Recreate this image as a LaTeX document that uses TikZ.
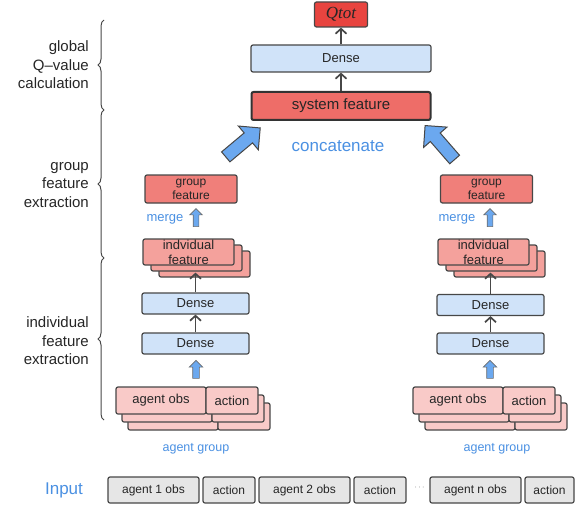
\documentclass[tikz,border=0pt]{standalone}
\usepackage{fontspec}
\setmainfont{Liberation Sans}
\newfontfamily\qfont{Liberation Serif}
\usetikzlibrary{arrows.meta,shapes.arrows,shadows,decorations.pathreplacing}

\definecolor{qred}{HTML}{E8443F}
\definecolor{sysred}{HTML}{EE6D68}
\definecolor{grpred}{HTML}{F07F7A}
\definecolor{indred}{HTML}{F4A19C}
\definecolor{obspink}{HTML}{F9CAC8}
\definecolor{denseblue}{HTML}{D0E3F9}
\definecolor{arrblue}{HTML}{6BA8EF}
\definecolor{txtblue}{HTML}{4A90E2}
\definecolor{inpgray}{HTML}{E6E6E6}
\definecolor{edge}{HTML}{474747}

\tikzset{
  box/.style={draw=edge, line width=1.2pt, rounded corners=2pt, inner sep=0pt,
    text=black!85, font=\fontsize{13}{15}\selectfont},
  dense/.style={box, fill=denseblue, minimum width=107pt, minimum height=21pt},
  grp/.style={box, fill=grpred, minimum width=92pt, minimum height=28pt, align=center,
    font=\fontsize{12}{14}\selectfont},
  indv/.style={box, fill=indred, minimum width=91pt, minimum height=26pt, align=center,
    font=\fontsize{13}{15}\selectfont,
    double copy shadow={shadow xshift=8pt, shadow yshift=-6pt}},
  obs/.style={box, fill=obspink, minimum width=90pt, minimum height=27pt,
    double copy shadow={shadow xshift=6pt, shadow yshift=-8pt}},
  inp/.style={box, fill=inpgray, minimum width=91pt, minimum height=26pt,
    font=\fontsize{12}{14}\selectfont},
  bluetxt/.style={text=txtblue, inner sep=0pt, font=\fontsize{12.5}{14}\selectfont},
  lbl/.style={anchor=east, align=right, inner sep=0pt, text=black!85,
    font=\fontsize{15}{18.5}\selectfont},
  arr/.style={draw=edge, line width=1.7pt, -{Straight Barb[length=5pt,width=11pt]}},
  fatarrow/.style={single arrow, draw=edge, line width=1pt, fill=arrblue, inner sep=0pt,
    text height=6pt, text depth=6pt, minimum height=45pt, single arrow head extend=9pt},
  thinarrow/.style={single arrow, draw=edge!80, line width=0.6pt, fill=arrblue, inner sep=0pt,
    text height=2.5pt, text depth=2.5pt, minimum height=18pt, single arrow head extend=3.5pt},
  brc/.style={draw=edge, line width=1pt, decorate, decoration={brace, amplitude=6pt}}
}

\begin{document}
\begin{tikzpicture}[x=1pt,y=-1pt]
    \useasboundingbox (0,0) rectangle (575,508);

    % global Q-value
    \node[box, fill=qred, minimum width=53pt, minimum height=25pt,
      font=\qfont\itshape\fontsize{17}{17}\selectfont] (qtot) at (341,14.5) {Qtot};
    \node[dense, minimum width=180pt, minimum height=27pt] (dtop) at (341,58.5) {Dense};
    \node[box, fill=sysred, draw=black!80, line width=2pt, minimum width=179pt,
      minimum height=28pt, font=\fontsize{15}{15}\selectfont] (sys) at (341,106) {system feature};
    \draw[arr] (sys.north) -- (dtop.south);
    \draw[arr] (dtop.north) -- (qtot.south);
    \node[bluetxt, font=\fontsize{17}{17}\selectfont] (concat) at (338,146) {concatenate};
    \node[fatarrow, rotate=40] (catL) at (240.5,144.5) {};
    \node[fatarrow, rotate=131] (catR) at (442,145) {};

    % left agent group
    \node[grp] (gfL) at (191,189) {group\\feature};
    \node[bluetxt, font=\fontsize{13}{13}\selectfont] (mergeL) at (165,219) {merge};
    \node[thinarrow, rotate=90] (upL) at (196,219) {};
    \node[indv] (indL) at (188.5,252) {indvidual\\feature};
    \node[dense] (d2L) at (195.5,303.5) {Dense};
    \node[dense] (d1L) at (195.5,343.5) {Dense};
    \node[thinarrow, rotate=90, text height=3pt, text depth=3pt] (inL) at (196,371) {};
    \node[obs] (obsL) at (161,400.5) {agent obs};
    \node[obs, minimum width=52pt] (actL) at (232,400.5) {action};
    \node[bluetxt] (grpL) at (196,449) {agent group};
    \draw[arr] (d1L.north) -- (d2L.south);
    \draw[arr, shorten >=7pt] (d2L.north) -- (d2L.north |- indL.south);

    % right agent group
    \node[grp] (gfR) at (486.5,189) {group\\feature};
    \node[bluetxt, font=\fontsize{13}{13}\selectfont] (mergeR) at (457,219) {merge};
    \node[thinarrow, rotate=90] (upR) at (490,219) {};
    \node[indv] (indR) at (483.5,252) {indvidual\\feature};
    \node[dense] (d2R) at (490.5,305) {Dense};
    \node[dense] (d1R) at (490.5,343.5) {Dense};
    \node[thinarrow, rotate=90, text height=3pt, text depth=3pt] (inR) at (490,371) {};
    \node[obs] (obsR) at (458,400.5) {agent obs};
    \node[obs, minimum width=52pt] (actR) at (529,400.5) {action};
    \node[bluetxt] (grpR) at (497,449) {agent group};
    \draw[arr] (d1R.north) -- (d2R.south);
    \draw[arr, shorten >=7pt] (d2R.north) -- (d2R.north |- indR.south);

    % braces and stage labels
    \coordinate (b0) at (104,20);
    \coordinate (b1) at (104,110);
    \coordinate (b2) at (104,258);
    \coordinate (b3) at (104,420);
    \draw[brc] (b1) -- (b0);
    \draw[brc] (b2) -- (b1);
    \draw[brc] (b3) -- (b2);
    \node[lbl] (lglob) at (89,65) {global\\Q–value\\calculation};
    \node[lbl] (lgrp) at (89,185) {group\\feature\\extraction};
    \node[lbl] (lind) at (89,341) {individual\\feature\\extraction};

    % input row
    \node[bluetxt, font=\fontsize{17}{17}\selectfont] (input) at (64,490) {Input};
    \node[inp] (in1) at (153.5,490) {agent 1 obs};
    \node[inp, minimum width=52pt] (ac1) at (229,490) {action};
    \node[inp] (in2) at (304.5,490) {agent 2 obs};
    \node[inp, minimum width=52pt] (ac2) at (380,490) {action};
    \node[inner sep=0pt, text=black!70, font=\fontsize{8}{8}\selectfont] (dots) at (419.5,488) {$\cdots$};
    \node[inp] (inn) at (475.5,490) {agent n obs};
    \node[inp, minimum width=49pt] (acn) at (549.5,490) {action};
\end{tikzpicture}
\end{document}
